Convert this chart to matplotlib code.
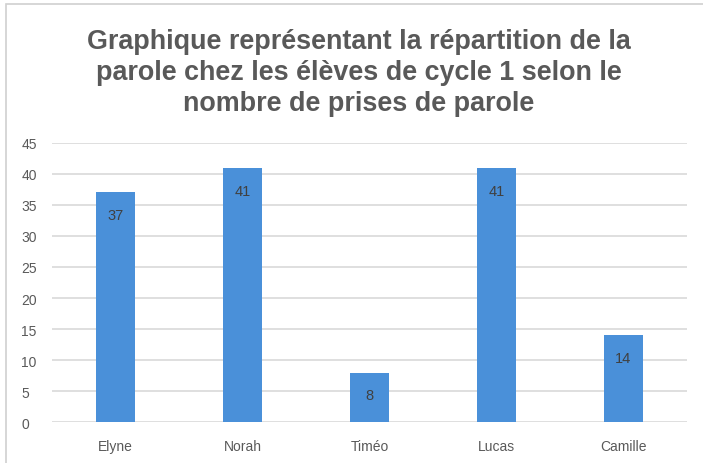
import matplotlib.pyplot as plt
from matplotlib.patches import Rectangle
import numpy as np

plt.rcParams['font.family'] = ['Liberation Sans', 'DejaVu Sans']

eleves = ['Elyne', 'Norah', 'Timéo', 'Lucas', 'Camille']
prises = [37, 41, 8, 41, 14]
yticks = np.arange(0, 50, 5)

fig = plt.figure(figsize=(7.03, 4.64), dpi=100)
ax = fig.add_axes([0.074, 0.088, 0.903, 0.602])

# border around the whole chart
fig.patches.append(Rectangle((0.008, -0.01), 1.0, 1.0, transform=fig.transFigure,
                             fill=False, edgecolor='#d0d0d0', linewidth=1.2))

x = np.arange(len(eleves))
bars = ax.bar(x, prises, width=0.31, color='#4a90d9', zorder=3)
for b, v in zip(bars, prises):
    ax.text(b.get_x() + b.get_width() / 2, v - 3.7, str(v), ha='center', va='center',
            fontsize=10.5, color='#404040', zorder=4)

ax.set_xlim(-0.5, len(eleves) - 0.5)
ax.set_ylim(0, 45)
ax.set_yticks(yticks)
ax.set_xticks(x)
ax.set_xticklabels(eleves)
ax.yaxis.grid(True, color='#d9d9d9', linewidth=1.2, zorder=0)
ax.tick_params(axis='both', length=0, labelsize=10, colors='#595959')
ax.tick_params(axis='x', pad=12)
ax.tick_params(axis='y', pad=22)
for label in ax.get_yticklabels():
    label.set_horizontalalignment('left')
for s in ax.spines.values():
    s.set_visible(False)

fig.text(0.51, 0.843, "Graphique représentant la répartition de la\n"
         "parole chez les élèves de cycle 1 selon le\n"
         "nombre de prises de parole",
         ha='center', va='center', fontsize=19.4, fontweight='bold', color='#595959',
         linespacing=1.24)

fig.savefig('out.png', dpi=100)
